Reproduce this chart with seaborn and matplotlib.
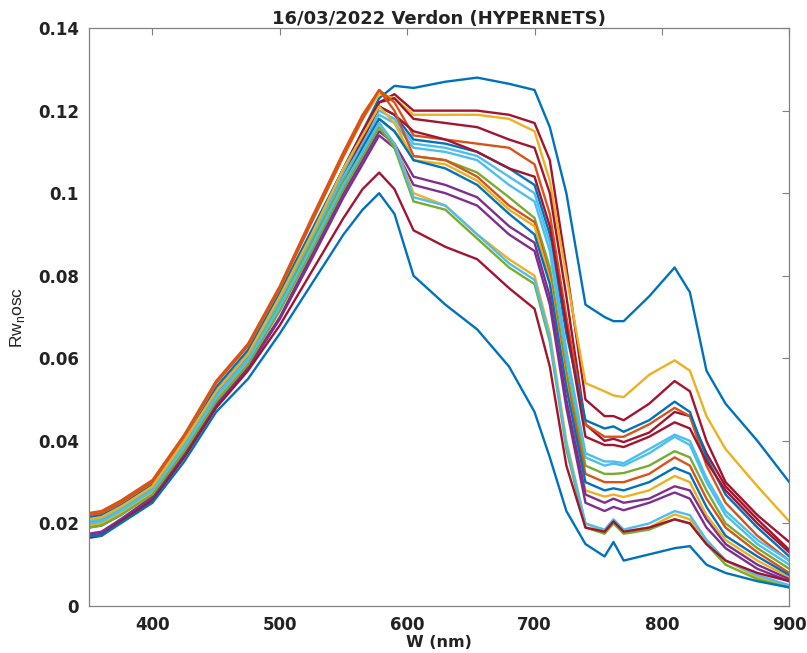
import numpy as np
import pandas as pd
import matplotlib
matplotlib.use("Agg")
import matplotlib.pyplot as plt
from matplotlib.ticker import FuncFormatter
import seaborn as sns

# ---------------- DATA ----------------
wavelengths = [350, 360, 375, 400, 425, 450, 475, 500, 525, 550, 565, 578, 590, 605,
               630, 655, 680, 700, 712, 725, 740, 755, 762, 770, 790, 810, 822, 835,
               850, 875, 900]

s01 = [0.0215, 0.022, 0.0245, 0.0295, 0.040, 0.053, 0.062, 0.076, 0.091, 0.106, 0.115, 0.123, 0.126, 0.1255,
       0.127, 0.128, 0.1265, 0.125, 0.116, 0.100, 0.073, 0.070, 0.069, 0.069, 0.075, 0.082, 0.076, 0.057,
       0.049, 0.040, 0.030]
s02 = [0.021, 0.0215, 0.024, 0.029, 0.0395, 0.052, 0.061, 0.075, 0.090, 0.106, 0.115, 0.122, 0.124, 0.120,
       0.120, 0.120, 0.119, 0.117, 0.108, 0.082, 0.050, 0.046, 0.046, 0.045, 0.049, 0.0545, 0.052, 0.040,
       0.030, 0.022, 0.0155]
s03 = [0.022, 0.0225, 0.025, 0.030, 0.041, 0.054, 0.063, 0.077, 0.093, 0.109, 0.118, 0.124, 0.123, 0.119,
       0.119, 0.119, 0.118, 0.115, 0.103, 0.080, 0.054, 0.052, 0.051, 0.0506, 0.056, 0.0595, 0.057, 0.046,
       0.038, 0.029, 0.0205]
s04 = [0.0205, 0.021, 0.0235, 0.0285, 0.039, 0.0515, 0.0605, 0.074, 0.089, 0.105, 0.114, 0.122, 0.123, 0.118,
       0.117, 0.116, 0.113, 0.111, 0.100, 0.075, 0.044, 0.040, 0.0405, 0.0397, 0.042, 0.047, 0.046, 0.037,
       0.029, 0.021, 0.0136]
s05 = [0.0225, 0.023, 0.0255, 0.0305, 0.0415, 0.0545, 0.0635, 0.0775, 0.094, 0.110, 0.119, 0.125, 0.122, 0.114,
       0.113, 0.112, 0.111, 0.107, 0.095, 0.070, 0.044, 0.041, 0.041, 0.041, 0.044, 0.048, 0.046, 0.034,
       0.025, 0.017, 0.011]
s06 = [0.0215, 0.022, 0.024, 0.029, 0.040, 0.052, 0.061, 0.075, 0.090, 0.106, 0.114, 0.121, 0.119, 0.113,
       0.112, 0.110, 0.106, 0.102, 0.090, 0.066, 0.045, 0.043, 0.0435, 0.0422, 0.045, 0.0495, 0.047, 0.036,
       0.027, 0.019, 0.012]
s07 = [0.021, 0.0215, 0.024, 0.0285, 0.0395, 0.0515, 0.0605, 0.074, 0.089, 0.105, 0.113, 0.120, 0.118, 0.112,
       0.111, 0.109, 0.104, 0.100, 0.088, 0.062, 0.037, 0.035, 0.035, 0.0346, 0.038, 0.0415, 0.040, 0.031,
       0.023, 0.016, 0.011]
s08 = [0.0195, 0.020, 0.023, 0.028, 0.0385, 0.051, 0.060, 0.073, 0.088, 0.104, 0.113, 0.121, 0.119, 0.115,
       0.113, 0.110, 0.106, 0.104, 0.092, 0.068, 0.041, 0.039, 0.039, 0.0385, 0.041, 0.0445, 0.043, 0.035,
       0.028, 0.020, 0.013]
s09 = [0.0205, 0.021, 0.0235, 0.028, 0.039, 0.051, 0.060, 0.0735, 0.0885, 0.104, 0.112, 0.119, 0.117, 0.111,
       0.110, 0.108, 0.102, 0.098, 0.086, 0.060, 0.036, 0.034, 0.0345, 0.034, 0.037, 0.041, 0.039, 0.030,
       0.022, 0.015, 0.010]
s10 = [0.020, 0.0205, 0.023, 0.028, 0.0385, 0.0505, 0.0595, 0.073, 0.088, 0.103, 0.111, 0.118, 0.115, 0.109,
       0.108, 0.105, 0.099, 0.094, 0.082, 0.057, 0.034, 0.032, 0.032, 0.0322, 0.034, 0.0375, 0.036, 0.028,
       0.020, 0.014, 0.009]
s11 = [0.022, 0.0225, 0.025, 0.030, 0.041, 0.054, 0.063, 0.077, 0.093, 0.109, 0.118, 0.125, 0.120, 0.109,
       0.108, 0.104, 0.097, 0.093, 0.080, 0.055, 0.032, 0.030, 0.030, 0.030, 0.032, 0.036, 0.034, 0.026,
       0.019, 0.013, 0.008]
s12 = [0.021, 0.0215, 0.024, 0.029, 0.040, 0.052, 0.061, 0.075, 0.090, 0.106, 0.114, 0.121, 0.117, 0.108,
       0.107, 0.103, 0.096, 0.092, 0.079, 0.054, 0.028, 0.0265, 0.027, 0.0264, 0.028, 0.0315, 0.030, 0.022,
       0.016, 0.011, 0.007]
s13 = [0.019, 0.0195, 0.022, 0.0275, 0.038, 0.050, 0.059, 0.072, 0.087, 0.102, 0.111, 0.118, 0.115, 0.108,
       0.106, 0.102, 0.095, 0.090, 0.078, 0.053, 0.030, 0.028, 0.0285, 0.028, 0.030, 0.0335, 0.032, 0.024,
       0.017, 0.012, 0.0075]
s14 = [0.0175, 0.018, 0.021, 0.0265, 0.037, 0.049, 0.058, 0.070, 0.085, 0.100, 0.108, 0.115, 0.112, 0.104,
       0.102, 0.099, 0.092, 0.088, 0.075, 0.050, 0.027, 0.025, 0.026, 0.025, 0.026, 0.029, 0.028, 0.021,
       0.015, 0.010, 0.0065]
s15 = [0.017, 0.0175, 0.0205, 0.026, 0.0365, 0.0485, 0.0575, 0.0695, 0.084, 0.099, 0.107, 0.114, 0.111, 0.102,
       0.100, 0.097, 0.090, 0.086, 0.073, 0.048, 0.025, 0.023, 0.024, 0.0232, 0.025, 0.0275, 0.026, 0.019,
       0.014, 0.009, 0.006]
s16 = [0.0195, 0.020, 0.0225, 0.0275, 0.038, 0.050, 0.059, 0.072, 0.087, 0.102, 0.110, 0.117, 0.112, 0.100,
       0.097, 0.090, 0.084, 0.080, 0.066, 0.040, 0.020, 0.018, 0.0205, 0.018, 0.019, 0.0222, 0.021, 0.016,
       0.011, 0.007, 0.005]
s17 = [0.019, 0.0195, 0.022, 0.027, 0.0375, 0.0495, 0.0585, 0.0715, 0.086, 0.101, 0.109, 0.116, 0.111, 0.098,
       0.096, 0.089, 0.082, 0.078, 0.064, 0.038, 0.019, 0.0175, 0.020, 0.0175, 0.0185, 0.021, 0.020, 0.015,
       0.010, 0.0065, 0.0045]
s18 = [0.020, 0.0205, 0.023, 0.028, 0.0385, 0.0505, 0.0595, 0.0725, 0.087, 0.102, 0.110, 0.117, 0.112, 0.099,
       0.097, 0.090, 0.083, 0.079, 0.065, 0.039, 0.020, 0.0185, 0.021, 0.0185, 0.020, 0.023, 0.022, 0.016,
       0.011, 0.0075, 0.005]
s19 = [0.0165, 0.017, 0.0205, 0.0255, 0.036, 0.048, 0.057, 0.068, 0.081, 0.094, 0.101, 0.105, 0.101, 0.091,
       0.087, 0.084, 0.077, 0.072, 0.058, 0.034, 0.019, 0.018, 0.0205, 0.018, 0.019, 0.021, 0.020, 0.015,
       0.011, 0.008, 0.006]
s20 = [0.017, 0.017, 0.020, 0.025, 0.035, 0.047, 0.055, 0.066, 0.078, 0.090, 0.096, 0.100, 0.095, 0.080,
       0.073, 0.067, 0.058, 0.047, 0.036, 0.023, 0.015, 0.012, 0.0155, 0.011, 0.0125, 0.014, 0.0145, 0.010,
       0.008, 0.006, 0.0045]

series = [s01, s02, s03, s04, s05, s06, s07, s08, s09, s10,
          s11, s12, s13, s14, s15, s16, s17, s18, s19, s20]

title = "16/03/2022 Verdon (HYPERNETS)"
xlabel = "W (nm)"
ylabel = r"Rw$_\mathregular{n}$osc"

# MATLAB default line colours, picked per series by eye
BLUE, ORANGE, YELLOW, PURPLE, GREEN, CYAN, DRED = (
    "#0072BD", "#D95319", "#EDB120", "#7E2F8E", "#77AC30", "#4DBEEE", "#A2142F")
colors = [BLUE, DRED, YELLOW, DRED, ORANGE, BLUE, CYAN, DRED, CYAN, GREEN,
          ORANGE, YELLOW, BLUE, PURPLE, PURPLE, YELLOW, GREEN, CYAN, DRED, BLUE]

# ---------------- LONG TABLE ----------------
names = [f"s{i + 1:02d}" for i in range(len(series))]
df = pd.concat(
    [pd.DataFrame({"wl": wavelengths, "val": vals, "series": n}) for n, vals in zip(names, series)],
    ignore_index=True,
)

# ---------------- PLOT ----------------
sns.set_style("white")
plt.rcParams["font.family"] = ["DejaVu Sans"]

fig, ax = plt.subplots(figsize=(8.07, 6.53), dpi=100)
fig.subplots_adjust(left=0.110, right=0.978, bottom=0.072, top=0.957)

sns.lineplot(
    data=df, x="wl", y="val", hue="series", hue_order=names,
    palette=dict(zip(names, colors)), estimator=None, errorbar=None,
    legend=False, linewidth=1.7, ax=ax,
)

ax.set_xlim(350, 900)
ax.set_ylim(0, 0.14)
ax.set_xticks([400, 500, 600, 700, 800, 900])
ax.set_yticks(np.arange(0, 0.141, 0.02))
ax.yaxis.set_major_formatter(FuncFormatter(lambda v, p: f"{v:g}"))

ax.tick_params(direction="in", top=True, right=True, length=5, width=0.8,
               color="#808080", labelcolor="#222222", labelsize=12, pad=7)
for lbl in ax.get_xticklabels() + ax.get_yticklabels():
    lbl.set_fontweight("bold")
for sp in ax.spines.values():
    sp.set_color("#808080")
    sp.set_linewidth(0.9)

ax.set_title(title, fontsize=13, fontweight="bold", pad=3, color="#222222")
ax.set_xlabel(xlabel, fontsize=11.5, fontweight="bold", labelpad=1, color="#222222")
ax.set_ylabel(ylabel, fontsize=12.5, labelpad=8, color="#222222",
              family=["Liberation Sans", "DejaVu Sans"])

plt.savefig("out.png", dpi=100)
plt.close()
